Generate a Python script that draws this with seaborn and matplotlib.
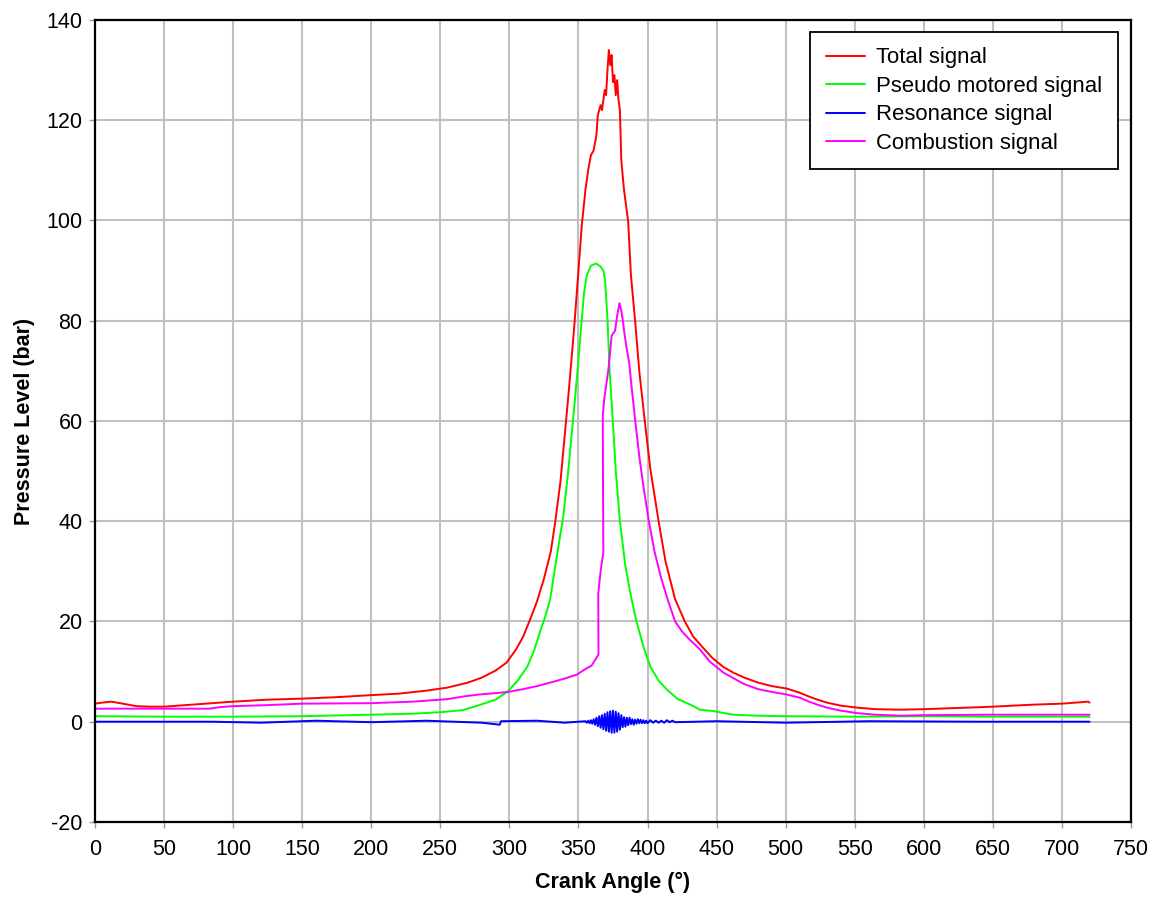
import numpy as np
import pandas as pd
import matplotlib
matplotlib.use("Agg")
import matplotlib.pyplot as plt
import seaborn as sns

# ---- measured cylinder pressure traces (crank angle in degrees, pressure in bar) ----
total_angle = [0, 5, 12, 20, 30, 40, 50, 75, 100, 125, 150, 175, 200, 220, 240, 255,
               270, 280, 290, 298, 305, 310, 315, 320, 325, 330, 333, 337, 340, 343,
               347, 350, 352.4, 355, 357, 359, 361, 363, 364, 366, 367, 368, 369, 370,
               371, 372, 373, 374, 375, 376, 377, 378, 379, 380, 381, 383, 384, 386,
               388, 391, 394, 398, 402, 408, 413, 420, 427, 433, 440, 447, 455, 462,
               470, 480, 490, 501, 510, 517, 523, 530, 540, 552, 565, 583, 600, 631,
               650, 679, 700, 719, 720]
total_bar = [3.6, 3.8, 4.0, 3.6, 3.1, 3.0, 3.0, 3.5, 4.0, 4.4, 4.6, 4.9, 5.3, 5.6, 6.2, 6.8,
             7.8, 8.8, 10.2, 11.8, 14.5, 17.0, 20.4, 24.0, 28.5, 34.0, 39.5, 48.0, 57.0, 66.0,
             79.0, 90.0, 99.0, 106.0, 110.0, 113.0, 114.0, 117.0, 121.0, 123.0, 122.0, 124.0, 126.0, 125.0,
             130.0, 134.0, 131.0, 133.0, 127.6, 129.0, 125.0, 128.0, 124.0, 122.0, 112.0, 106.0, 104.0, 99.7,
             89.0, 80.0, 70.0, 60.0, 50.5, 40.0, 32.0, 24.4, 20.0, 17.0, 14.8, 12.7, 10.9, 9.8,
             8.8, 7.8, 7.1, 6.6, 5.8, 5.0, 4.4, 3.8, 3.2, 2.8, 2.5, 2.4, 2.5, 2.8,
             3.0, 3.4, 3.6, 4.0, 3.8]

motored_angle = [0, 50, 100, 150, 200, 230, 250, 266, 277, 290, 299, 306, 313, 318, 322,
                 326, 329.5, 334, 339, 342.6, 346, 349, 352.4, 354, 356, 359, 362.8, 366, 368,
                 369.3, 371, 372.5, 374.8, 377, 380, 384, 388, 392, 397, 402, 408, 414, 422, 431,
                 438, 448, 462, 480, 498, 550, 600, 650, 720]
motored_bar = [1.1, 1.0, 1.0, 1.1, 1.4, 1.6, 1.9, 2.3, 3.2, 4.4, 6.1, 8.2, 11.0, 14.3, 17.8,
               21.0, 24.4, 32.4, 41.0, 50.0, 60.0, 69.0, 80.3, 85.5, 89.0, 91.0, 91.4, 90.8, 90.0,
               88.0, 80.3, 70.3, 60.3, 50.0, 40.0, 31.0, 25.0, 20.0, 15.0, 11.0, 8.2, 6.4, 4.5, 3.4,
               2.4, 2.1, 1.4, 1.2, 1.1, 1.0, 1.1, 1.0, 1.0]

resonance_angle = [0, 85, 120, 160, 200, 240, 280, 293, 294, 320, 340, 355, 356, 357, 358,
                   359, 360, 361, 362, 363, 364, 365, 366, 367, 368, 369, 370, 371, 372,
                   373, 374, 375, 376, 377, 378, 379, 380, 381, 382, 383, 384, 385, 386,
                   387, 388, 389, 390, 391, 392, 393, 394, 395, 396, 397, 398, 399, 400,
                   402, 404, 406, 408, 410, 412, 414, 416, 418, 420, 450, 500, 560, 640, 720]
resonance_bar = [0.0, 0.0, -0.2, 0.2, -0.1, 0.2, -0.2, -0.6, 0.1, 0.2, -0.2, 0.1, -0.2, 0.2, -0.3,
                 0.3, -0.4, 0.5, -0.6, 0.8, -0.9, 1.1, -1.2, 1.3, -1.5, 1.6, -1.8, 1.9, -2.0,
                 2.1, -2.2, 2.2, -2.2, 2.0, -2.0, 1.7, -1.6, 1.3, -1.1, 0.9, -1.0, 0.8, -0.7,
                 0.8, -0.5, 0.5, -0.6, 0.4, -0.4, 0.5, -0.3, 0.4, -0.3, 0.3, -0.3, 0.2, -0.3,
                 0.3, -0.2, 0.2, -0.2, 0.2, -0.2, 0.3, -0.1, 0.2, -0.1, 0.1, -0.2, 0.1, 0.0, 0.0]

combustion_angle = [0, 50, 83, 90, 100, 124, 150, 200, 230, 250, 255, 266, 277, 298, 310,
                    320, 329.5, 340, 348.8, 355, 359.5, 362, 364.5, 364.3, 366, 368, 367.8,
                    367.6, 368.5, 370, 371.7, 373, 374, 376.5, 378, 379.7, 381, 382, 383.5,
                    385, 386.7, 388, 391, 394, 397, 400.7, 405, 410, 415, 420, 425, 430,
                    435.7, 438, 445, 455, 462, 470, 480, 487, 501, 510, 517, 523, 530, 540,
                    552, 565, 583, 600, 650, 720]
combustion_bar = [2.6, 2.6, 2.6, 2.9, 3.1, 3.3, 3.6, 3.7, 4.0, 4.4, 4.5, 5.0, 5.4, 5.9, 6.5,
                  7.1, 7.8, 8.6, 9.4, 10.5, 11.2, 12.3, 13.4, 25.5, 30.0, 33.8, 45.0,
                  61.0, 64.0, 67.0, 70.3, 74.0, 77.0, 78.0, 81.0, 83.5, 82.0, 80.3, 77.0,
                  74.3, 71.7, 68.0, 60.3, 53.0, 47.0, 40.4, 34.0, 28.5, 24.0, 20.0, 18.0, 16.5,
                  15.0, 14.4, 12.0, 9.8, 8.7, 7.5, 6.5, 6.1, 5.4, 4.8, 4.0, 3.4, 2.8, 2.2,
                  1.7, 1.4, 1.2, 1.3, 1.4, 1.4]

signal_names = ["Total signal", "Pseudo motored signal", "Resonance signal", "Combustion signal"]
signal_colors = ["#FF0000", "#00FF00", "#0000FF", "#FF00FF"]

x_ticks = list(range(0, 751, 50))
y_ticks = list(range(-20, 141, 20))

# ---- long-form table for seaborn ----
frames = []
for name, ang, val in zip(signal_names,
                          [total_angle, motored_angle, resonance_angle, combustion_angle],
                          [total_bar, motored_bar, resonance_bar, combustion_bar]):
    frames.append(pd.DataFrame({"angle": ang, "pressure": val, "signal": name}))
df = pd.concat(frames, ignore_index=True)

sns.set_theme(style="whitegrid")
plt.rcParams["font.family"] = ["Liberation Sans", "DejaVu Sans"]
plt.rcParams["axes.unicode_minus"] = False
plt.rcParams["text.color"] = "black"
plt.rcParams["axes.labelcolor"] = "black"

fig = plt.figure(figsize=(11.6, 8.99), dpi=100)
ax = fig.add_axes([0.0819, 0.0857, 0.975 - 0.0819, 0.9778 - 0.0857])

sns.lineplot(data=df, x="angle", y="pressure", hue="signal", hue_order=signal_names,
             palette=dict(zip(signal_names, signal_colors)), sort=False, estimator=None,
             linewidth=1.4, ax=ax)

ax.set_xlim(0, 750)
ax.set_ylim(-20, 140)
ax.set_xticks(x_ticks)
ax.set_yticks(y_ticks)
ax.tick_params(axis="both", labelsize=15.5, labelcolor="black", length=4, width=1,
               color="#999999", left=True, bottom=True)
ax.tick_params(axis="x", pad=8)
ax.tick_params(axis="y", pad=5)
ax.grid(True, color="#C0C0C0", linewidth=1.5)
ax.set_facecolor("white")
for sp in ax.spines.values():
    sp.set_color("black")
    sp.set_linewidth(1.6)

ax.set_xlabel("Crank Angle (°)", fontsize=15.5, fontweight="bold", labelpad=9, color="black")
ax.set_ylabel("Pressure Level (bar)", fontsize=15.5, fontweight="bold", labelpad=8, color="black")

handles, labels = ax.get_legend_handles_labels()
leg = ax.legend(handles, labels, loc="upper right", bbox_to_anchor=(0.9875, 0.985),
                fontsize=15.9, frameon=True, fancybox=False, shadow=False,
                handlelength=1.8, handletextpad=0.5, labelspacing=0.34,
                borderpad=0.7, borderaxespad=0.0)
leg.get_frame().set_edgecolor("black")
leg.get_frame().set_linewidth(1.3)
leg.get_frame().set_alpha(1)
for t in leg.get_texts():
    t.set_color("black")
for line in leg.get_lines():
    line.set_linewidth(1.4)

fig.savefig("out.png", dpi=100, facecolor="white")
